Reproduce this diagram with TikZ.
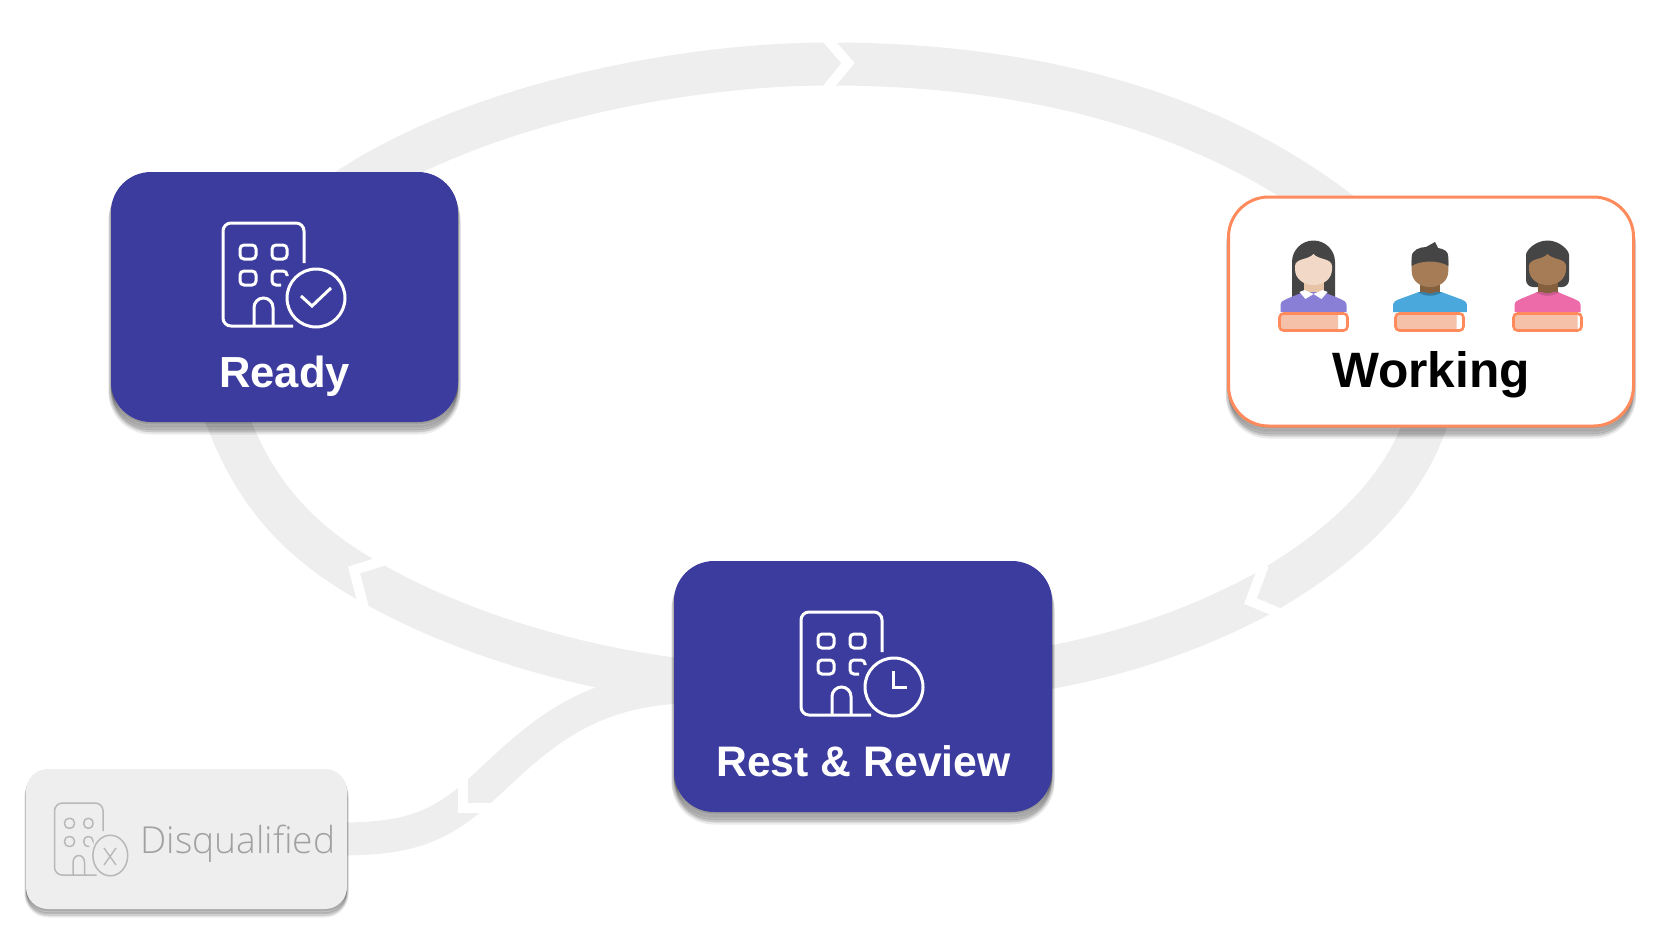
\documentclass[tikz,border=0pt]{standalone}
\usepackage{fontspec}
\setmainfont{Liberation Sans}
\newfontfamily\lightfont{Open Sans Light}
\usepackage{tikz}
\usetikzlibrary{backgrounds}
\definecolor{boxblue}{HTML}{3C3C9E}
\definecolor{bandgray}{HTML}{EEEEEE}
\definecolor{workorange}{HTML}{FF8A5B}
\definecolor{barfill}{HTML}{F5C1A9}
\definecolor{hairdark}{HTML}{454545}
\definecolor{skinlight}{HTML}{F2D9C7}
\definecolor{necklight}{HTML}{E8C4A6}
\definecolor{skindark}{HTML}{A67C56}
\definecolor{neckdark}{HTML}{85603F}
\definecolor{shirtpurple}{HTML}{8A7FD6}
\definecolor{shirtblue}{HTML}{4AA8DC}
\definecolor{shirtpink}{HTML}{EC6BA8}
\tikzset{
	shadowlayer/.style n args={2}{preaction={fill=black,draw=black,opacity=.08,line width=#2,transform canvas={yshift=-#1}}},
	softshadow/.style={shadowlayer={10pt}{5pt},shadowlayer={8pt}{5pt},shadowlayer={6pt}{4pt},shadowlayer={4pt}{2pt},
		shadowlayer={2pt}{1pt},shadowlayer={1pt}{.5pt}},
	smallshadow/.style={shadowlayer={7pt}{3pt},shadowlayer={5pt}{3pt},shadowlayer={4pt}{2pt},shadowlayer={2pt}{1pt},
		shadowlayer={1pt}{.5pt}},
	statusbox/.style={rectangle,rounded corners=40pt,fill=boxblue},
	band/.style={draw=bandgray,line width=43pt},
	thinband/.style={draw=bandgray,line width=33pt},
	chevron/.style={draw=white,line width=10pt,miter limit=10},
	iconline/.style={color=#1,line width=3pt},
	boxtitle/.style={anchor=base,inner sep=0pt,font=\bfseries\fontsize{43.5}{50}\selectfont},
	buildingicon/.pic={
		\draw[rounded corners=8pt] (81,40) -- (81,0) -- (0,0) -- (0,103) -- (70,103);
		\draw[rounded corners=4pt] (17,22) rectangle (33,36);
		\draw[rounded corners=4pt] (49,22) rectangle (64,36);
		\draw[rounded corners=4pt] (17,48) rectangle (33,62);
		\draw[rounded corners=4pt] (64,53) -- (64,48) -- (49,48) -- (49,62) -- (58,62);
		\draw (31,103) -- (31,84.5) arc (180:360:9.5) -- (50,103);
		\draw (93,75) circle (29);
	},
	personbody/.pic={
		\fill[#1] (-33,0) -- (-33,-7) .. controls (-33,-10) and (-30,-12) .. (-27,-13) -- (-10,-20) -- (10,-20) -- (27,-13)
			.. controls (30,-12) and (33,-10) .. (33,-7) -- (33,0) -- cycle;
	},
	progressbar/.pic={
		\fill[white,rounded corners=3pt] (-34,-8.5) rectangle (34,8.5);
		\fill[barfill,rounded corners=1pt] (-33,-7.5) rectangle (#1,7.5);
		\draw[workorange,line width=2.6pt,rounded corners=4pt] (-34,-8.5) rectangle (34,8.5);
	},
	personface/.pic={
		\fill[#1] (0,-58) .. controls (-5,-52) and (-18,-54) .. (-18.5,-46) -- (-18.5,-43) .. controls (-18.5,-33) and (-10,-27) .. (0,-27)
			.. controls (10,-27) and (18.5,-33) .. (18.5,-43) -- (18.5,-46) .. controls (18,-54) and (5,-52) .. (0,-58) -- cycle;
	}
}
\begin{document}
\begin{tikzpicture}[x=1pt,y=-1pt]
\useasboundingbox (0,0) rectangle (1662,932);
% status boxes
\node[statusbox,softshadow,minimum width=347pt,minimum height=250pt] (ready) at (284.5,297) {};
\node[statusbox,softshadow,minimum width=378pt,minimum height=251pt] (rest) at (863,686.5) {};
\node[statusbox,softshadow,fill=white,draw=workorange,line width=3pt,minimum width=405pt,minimum height=229pt] (working) at (1431,311.5) {};
\node[statusbox,smallshadow,fill=bandgray,rounded corners=22pt,minimum width=321pt,minimum height=140pt] (disqualified) at (186.5,839) {};
% titles
\node[boxtitle,text=white] (readytitle) at (284.5,387) {Ready};
\node[boxtitle,text=white,font=\bfseries\fontsize{42.7}{50}\selectfont] (resttitle) at (863.5,776) {Rest \& Review};
\node[boxtitle,text=black,font=\bfseries\fontsize{49.7}{58}\selectfont] (workingtitle) at (1431,387) {Working};
\node[anchor=base west,inner sep=0pt,text=black!37,font=\lightfont\fontsize{37.2}{44}\selectfont] (disqualifiedtitle) at (140.5,853) {Disqualified};
% building icons
\pic[iconline=white] (readyicon) at (223,223) {buildingicon};
\draw[iconline=white] (301,296) -- (312,306) -- (331,288);
\pic[iconline=white] (resticon) at (801,612) {buildingicon};
\draw[iconline=white] (893,671) -- (893,687) -- (907,687);
\pic[iconline=black!28,line width=1.5pt,xscale=.6,yscale=.7] (disqualifiedicon) at (54.5,803) {buildingicon};
\draw[iconline=black!28,line width=1.4pt] (104,848) -- (116,865) (116,848) -- (104,865);
% workers
	\begin{scope}[shift={(1313.5,312)}]
	\fill[hairdark] (-21.5,-15) -- (-21.5,-50) arc (180:360:21.5) -- (21.5,-15) -- cycle;
	\fill[necklight] (-10,-31) rectangle (10,-17);
	\pic {personbody=shirtpurple};
	\fill[white] (-14,-20) -- (-8,-13) -- (0,-18) -- (-9,-22) -- cycle;
	\fill[white] (14,-20) -- (8,-13) -- (0,-18) -- (9,-22) -- cycle;
	\pic {personface=skinlight};
	\end{scope}
	\begin{scope}[shift={(1430,312)}]
	\fill[neckdark] (-10,-31) rectangle (10,-17);
	\pic[xscale=1.12] {personbody=shirtblue};
	\fill[shirtblue!75!black] (-12,-20) .. controls (-5,-15) and (5,-15) .. (12,-20) -- cycle;
	\fill[neckdark] (-10,-24) .. controls (-5,-17) and (5,-17) .. (10,-24) -- cycle;
	\fill[skindark] (-18.3,-52) -- (-18.3,-41) .. controls (-18.3,-31) and (-10,-25) .. (0,-25)
		.. controls (10,-25) and (18.3,-31) .. (18.3,-41) -- (18.3,-52) -- cycle;
	\fill[hairdark] (-18.3,-46) -- (-18.3,-55) .. controls (-18.3,-62) and (-10,-65) .. (-4,-65) -- (5,-70) -- (8,-64)
		.. controls (14,-63) and (18.3,-61) .. (18.3,-55) -- (18.3,-46) .. controls (10,-52) and (-10,-52) .. (-18.3,-46) -- cycle;
	\end{scope}
	\begin{scope}[shift={(1547.5,312)}]
	\fill[hairdark,rounded corners=7pt] (-21.5,-50) arc (180:360:21.5) -- (21.5,-25) -- (-21.5,-25) -- cycle;
	\fill[neckdark] (-10,-31) rectangle (10,-17);
	\pic {personbody=shirtpink};
	\fill[shirtpink!85!black] (-12,-20) .. controls (-5,-15) and (5,-15) .. (12,-20) -- cycle;
	\fill[neckdark] (-10,-24) .. controls (-5,-17) and (5,-17) .. (10,-24) -- cycle;
	\pic {personface=skindark};
	\end{scope}
\pic at (1313.5,322) {progressbar=24.5};
\pic at (1429.5,322) {progressbar=27};
\pic at (1547.5,322) {progressbar=30};
% bands behind the boxes
\coordinate (topgap) at (830,64);
\coordinate (rightgap) at (1262,594);
\coordinate (leftgap) at (370,582);
\coordinate (disqgap) at (474,796);
\begin{scope}[on background layer]
\draw[band] ([shift={(55.5pt,-23pt)}]ready.north) .. controls (470,105) and (680,64) .. (topgap);
\draw[band] (topgap) .. controls (1030,64) and (1210,110) .. ([shift={(-86pt,-21pt)}]working.north);
\draw[band] ([shift={(0pt,22pt)}]working.south) .. controls (1408,492) and (1338,550) .. (rightgap);
\draw[band] (rightgap) .. controls (1200,627) and (1130,654) .. ([shift={(-22pt,15.5pt)}]rest.east);
\draw[band] ([shift={(26pt,4.5pt)}]rest.west) .. controls (570,669) and (450,628) .. (leftgap);
\draw[band] (leftgap) .. controls (297,541) and (250,490) .. ([shift={(-64pt,22pt)}]ready.south);
\draw[thinband] ([xshift=26pt]rest.west) .. controls (578,686) and (530,746) .. (disqgap);
\draw[thinband] (disqgap) .. controls (430,834) and (395,840) .. ([xshift=-27pt]disqualified.east);
\draw[chevron] (826,38) -- (848,63) -- (826,90);
\draw[chevron] (386,560) -- (354,570) -- (364,608);
\draw[chevron] (1264,565) -- (1250.5,601) -- (1281,614);
\draw[chevron] (462.5,775) -- (462.5,807.5) -- (495,807.5);
\end{scope}
\end{tikzpicture}
\end{document}
